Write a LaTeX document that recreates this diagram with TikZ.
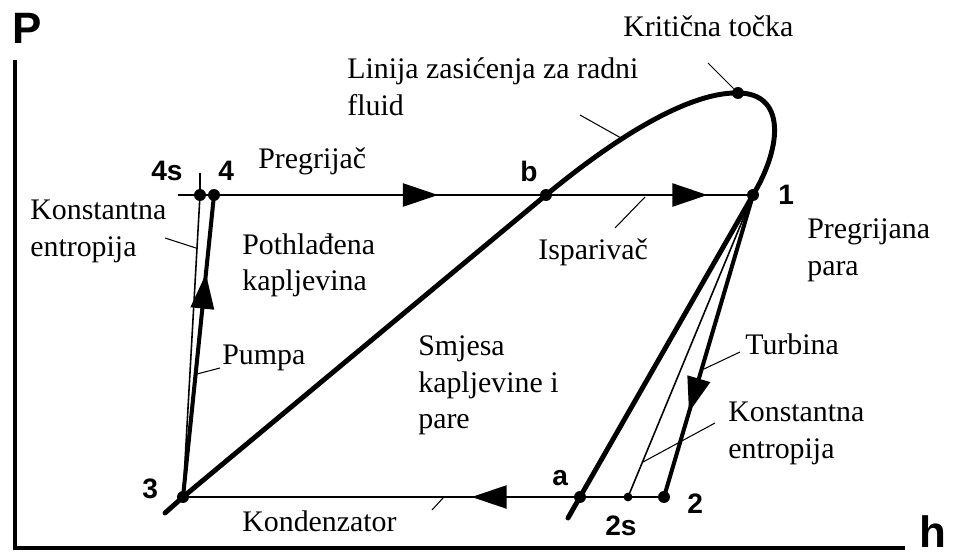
\documentclass[tikz,border=0pt]{standalone}
\usepackage{fontspec}
\setmainfont{Liberation Serif}
\setsansfont{Liberation Sans}
\usetikzlibrary{arrows.meta, decorations.markings}

\begin{document}
\begin{tikzpicture}[x=0.02cm, y=-0.02cm,
        % State points: filled dots
        dot/.style={circle, fill=black, inner sep=0pt, minimum size=6.8pt},
        smalldot/.style={circle, fill=black, inner sep=0pt, minimum size=5pt},
        % Point and axis labels: bold sans
        num/.style={anchor=base west, inner sep=0pt,
            font=\sffamily\bfseries\fontsize{16}{16}\selectfont},
        axlabel/.style={anchor=base west, inner sep=0pt,
            font=\sffamily\bfseries\fontsize{25}{25}\selectfont},
        % Explanatory text: serif, left aligned
        txt/.style={anchor=north west, inner sep=0pt, align=left,
            font=\fontsize{17}{21}\selectfont},
        % Line weights
        axis/.style={line width=2.6pt},
        sat/.style={line width=2.8pt, line cap=round, line join=round},
        flow/.style={line width=1.7pt},
        proc/.style={line width=2.3pt},
        isen/.style={line width=0.9pt},
        leader/.style={line width=0.6pt},
        % Filled triangle somewhere along a segment
        midarrow/.style={postaction={decorate}, decoration={markings,
            mark=at position #1 with {\arrow{Triangle[length=20pt, width=13pt]}}}},
    ]
    \useasboundingbox (0,0) rectangle (958,555);

    % === Axes ===
    \coordinate (axP) at (15,60);
    \coordinate (ax0) at (15,548);
    \coordinate (axH) at (905,548);
    \draw[axis] (axP) -- (ax0) -- (axH);
    \node[axlabel] (P) at (12,43) {P};
    \node[axlabel] (h) at (919,547) {h};

    % === State points ===
    \node[dot] (n4s) at (200,195) {};
    \node[dot] (n4) at (214,195) {};
    \node[dot] (nb) at (546,195) {};
    \node[dot] (n1) at (753,195) {};
    \node[dot] (nc) at (738,93) {};
    \node[dot] (n3) at (183,497) {};
    \node[dot] (na) at (580,497) {};
    \node[smalldot] (n2s) at (628,497) {};
    \node[dot] (n2) at (664,497) {};

    % === Saturation dome ===
    \coordinate (t3) at (165,513);
    \coordinate (ta) at (568,518);
    \draw[sat] (t3) -- (n3.center) -- (nb.center)
        .. controls (637,120) and (700,92) .. (nc.center)
        .. controls (785,93) and (783,145) .. (n1.center) -- (na.center) -- (ta);

    % === Cycle ===
    \coordinate (tl) at (178,195);
    \coordinate (tk) at (200,173);
    \draw[flow] (tl) -- (n4.center);
    \draw[isen] (n4s.center) -- (tk);
    \draw[flow, midarrow=0.675] (n4.center) -- (nb.center);
    \draw[flow, midarrow=0.78] (nb.center) -- (n1.center);
    \draw[isen] (n1.center) -- (n2s.center);
    \draw[proc, midarrow=0.72] (n1.center) -- (n2.center);
    \draw[flow, midarrow=0.40] (n2.center) -- (n3.center);
    \draw[isen] (n3.center) -- (n4s.center);
    \draw[proc, midarrow=0.74] (n3.center) -- (n4.center);

    % === Point labels ===
    \node[num] (l4s) at (151,180) {4s};
    \node[num] (l4) at (218,180) {4};
    \node[num] (lb) at (520,181) {b};
    \node[num] (l1) at (778,204) {1};
    \node[num] (l3) at (142,498) {3};
    \node[num] (la) at (552,485) {a};
    \node[num] (l2s) at (605,535) {2s};
    \node[num] (l2) at (687,513) {2};

    % === Text ===
    \node[txt] (kt) at (623,15) {Kritična točka};
    \node[txt] (lz) at (347,57) {Linija zasićenja za radni\\fluid};
    \node[txt] (pg) at (258,147) {Pregrijač};
    \node[txt] (kel) at (30,200) {Konstantna\\entropija};
    \node[txt] (pk) at (242,233) {Pothlađena\\kapljevina};
    \node[txt] (ip) at (538,238) {Isparivač};
    \node[txt] (pp) at (807,218) {Pregrijana\\para};
    \node[txt] (pu) at (222,345) {Pumpa};
    \node[txt] (sm) at (418,335) {Smjesa\\kapljevine i\\pare};
    \node[txt] (tu) at (745,333) {Turbina};
    \node[txt] (ker) at (728,402) {Konstantna\\entropija};
    \node[txt] (ko) at (242,510) {Kondenzator};

    % === Leaders ===
    \coordinate (ktA) at (708,63);
    \coordinate (lzA) at (580,115);
    \coordinate (lzB) at (621,138);
    \coordinate (ipA) at (615,228);
    \coordinate (ipB) at (645,197);
    \coordinate (kelA) at (165,238);
    \coordinate (kelB) at (196,248);
    \coordinate (puA) at (220,368);
    \coordinate (puB) at (197,374);
    \coordinate (tuA) at (740,352);
    \coordinate (tuB) at (704,369);
    \coordinate (kerA) at (715,423);
    \coordinate (kerB) at (643,462);
    \coordinate (koA) at (432,510);
    \coordinate (koB) at (443,498);
    \draw[leader] (ktA) -- (nc);
    \draw[leader] (lzA) -- (lzB);
    \draw[leader] (ipA) -- (ipB);
    \draw[leader] (kelA) -- (kelB);
    \draw[leader] (puA) -- (puB);
    \draw[leader] (tuA) -- (tuB);
    \draw[leader] (kerA) -- (kerB);
    \draw[leader] (koA) -- (koB);

\end{tikzpicture}
\end{document}
